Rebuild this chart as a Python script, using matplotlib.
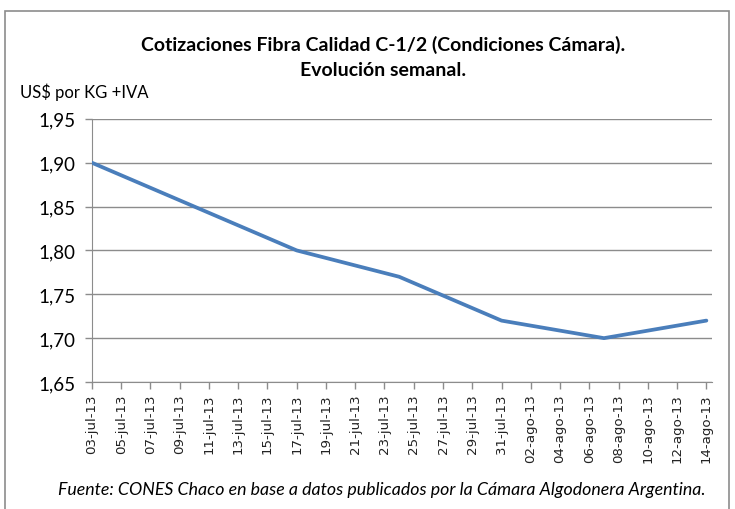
import datetime as dt

import matplotlib
matplotlib.use("Agg")
import matplotlib.pyplot as plt
from matplotlib.patches import Rectangle

# weekly quotes, US$ per kg + IVA
fechas = ["2013-07-03", "2013-07-10", "2013-07-17", "2013-07-24",
          "2013-07-31", "2013-08-07", "2013-08-14"]
precios = [1.90, 1.85, 1.80, 1.77, 1.72, 1.70, 1.72]
y_ticks = [1.65, 1.70, 1.75, 1.80, 1.85, 1.90, 1.95]
meses = {7: "jul", 8: "ago"}

x = [dt.datetime.strptime(f, "%Y-%m-%d") for f in fechas]
tick_dates = [x[0] + dt.timedelta(days=2 * i) for i in range(22)]

plt.rcParams["font.family"] = ["Lato", "DejaVu Sans"]

fig = plt.figure(figsize=(7.35, 5.10), dpi=100)
fig.patches.append(Rectangle((0.007, -0.01), 0.985, 0.987, transform=fig.transFigure,
                             fill=False, edgecolor="#8c8c8c", lw=1.2))
ax = fig.add_axes([0.125, 0.249, 0.844, 0.516])

ax.plot(x, precios, color="#4a7ebb", lw=2.7, solid_capstyle="round", zorder=3)

ax.set_xlim(x[0], x[-1] + dt.timedelta(days=0.4))
ax.set_ylim(1.65, 1.95)
ax.set_yticks(y_ticks)
ax.set_yticklabels([f"{v:.2f}".replace(".", ",") for v in y_ticks], fontsize=13.5)
ax.set_xticks(tick_dates)
ax.set_xticklabels([f"{d.day:02d}-{meses[d.month]}-13" for d in tick_dates],
                   rotation=90, fontsize=9.6, family="DejaVu Sans", color="#222222")
ax.grid(axis="y", color="#8c8c8c", lw=1)
ax.set_axisbelow(True)
for s in ["top", "right"]:
    ax.spines[s].set_visible(False)
for s in ["left", "bottom"]:
    ax.spines[s].set_color("#8c8c8c")
ax.tick_params(axis="both", color="#8c8c8c", length=5, width=1)
ax.tick_params(axis="y", pad=7)
ax.tick_params(axis="x", pad=3)

fig.text(0.521, 0.912, "Cotizaciones Fibra Calidad C-1/2 (Condiciones Cámara).",
         ha="center", va="center", fontsize=14, fontweight="bold")
fig.text(0.521, 0.862, "Evolución semanal.", ha="center", va="center",
         fontsize=14, fontweight="bold")
fig.text(0.027, 0.82, "US$ por KG +IVA", ha="left", va="center", fontsize=12)
fig.text(0.52, 0.04, "Fuente: CONES Chaco en base a datos publicados por la Cámara "
         "Algodonera Argentina.", ha="center", va="center", fontsize=12.8,
         style="italic")

fig.savefig("out.png", dpi=100)
